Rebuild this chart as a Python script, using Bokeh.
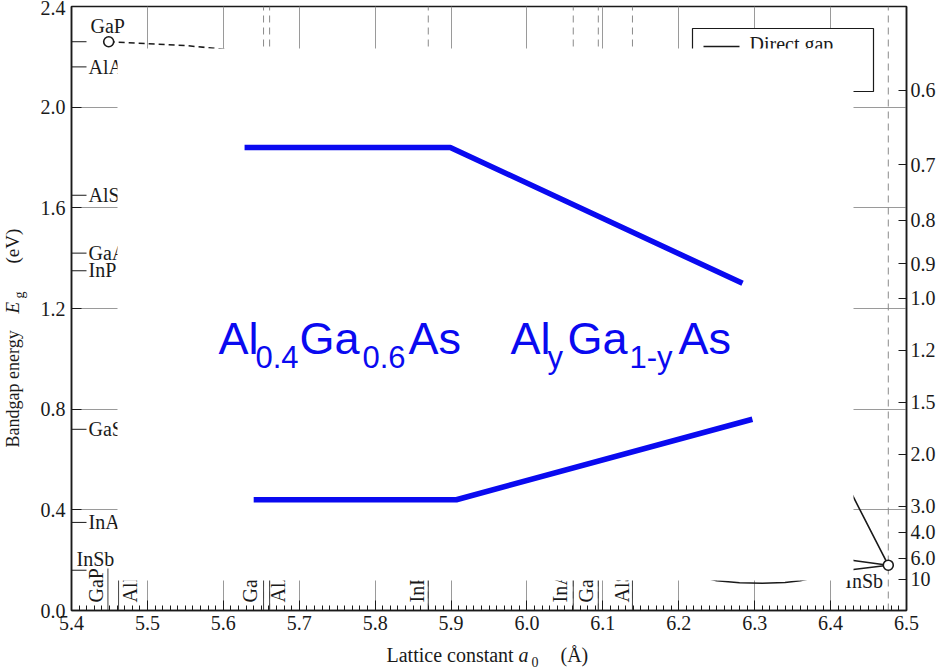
import math
from bokeh.plotting import figure
from bokeh.layouts import column, row
from bokeh.models import FixedTicker, LinearAxis, ColumnDataSource, Range1d
from bokeh.core.properties import value
from bokeh.embed import file_html
from bokeh.resources import INLINE

# ---------------- data ----------------
x_ticks = [5.4, 5.5, 5.6, 5.7, 5.8, 5.9, 6.0, 6.1, 6.2, 6.3, 6.4, 6.5]
x_tick_labels = ["5.4", "5.5", "5.6", "5.7", "5.8", "5.9", "6.0", "6.1", "6.2", "6.3", "6.4", "6.5"]
y_ticks = [0.0, 0.4, 0.8, 1.2, 1.6, 2.0, 2.4]
y_tick_labels = ["0.0", "0.4", "0.8", "1.2", "1.6", "2.0", "2.4"]
wavelength_um = [0.6, 0.7, 0.8, 0.9, 1.0, 1.2, 1.5, 2.0, 3.0, 4.0, 6.0, 10.0]
wavelength_labels = ["0.6", "0.7", "0.8", "0.9", "1.0", "1.2", "1.5", "2.0", "3.0", "4.0", "6.0", "10"]

# lattice constants (bottom markers)
lattice_materials = ["GaP", "AlP", "GaAs", "AlAs", "InP", "InAs", "GaSb", "AlSb", "InSb"]
lattice_a = [5.448, 5.462, 5.653, 5.661, 5.870, 6.061, 6.094, 6.139, 6.476]
lattice_dashed = [False, False, True, True, True, True, True, True, True]
lattice_bottom_label = [True, True, True, True, True, True, True, True, False]

# bandgaps (left-axis markers)
gap_materials = ["GaP", "AlAs", "AlSb", "GaAs", "InP", "GaSb", "InAs", "InSb"]
gap_eg = [2.26, 2.16, 1.65, 1.42, 1.35, 0.72, 0.35, 0.16]

# binary points drawn as circles
point_a = [5.449, 6.476]
point_eg = [2.26, 0.18]

# visible pieces of the alloy curves
gap_dashed_a = [5.449, 5.55, 5.65]
gap_dashed_eg = [2.26, 2.245, 2.215]
insb_steep_a = [6.476, 6.429, 6.40]
insb_steep_eg = [0.18, 0.457, 0.64]
insb_upper_a = [6.476, 6.430, 6.40]
insb_upper_eg = [0.18, 0.199, 0.21]
inassb_a = [6.061, 6.15, 6.25, 6.28, 6.31, 6.34, 6.36, 6.43, 6.476]
inassb_eg = [0.35, 0.19, 0.118, 0.110, 0.108, 0.111, 0.118, 0.163, 0.18]

# blue overlay (AlGaAs band edges)
upper_a = [5.628, 5.899, 6.284]
upper_eg = [1.84, 1.84, 1.30]
lower_a = [5.640, 5.907, 6.297]
lower_eg = [0.44, 0.44, 0.76]

formula_main = [["Al", "Ga", "As"], ["Al", "Ga", "As"]]
formula_sub = [["0.4", "0.6"], ["y", "1-y"]]

x_title = ["Lattice constant", "a", "0", "(Å)"]
y_title = ["Bandgap energy", "E", "g", "(eV)"]

# ---------------- layout ----------------
X0, X1 = 5.4, 6.5
Y0, Y1 = 0.0, 2.4
W, H = 942, 671
LW = 30          # strip holding the y title
BH = 28          # strip holding the x title
FL, FR, FT, FB = 71, 906, 6, 610   # frame edges in page pixels
FW = FR - FL
FH = FB - FT


def px2x(px):
    return X0 + (px - FL) / FW * (X1 - X0)


def py2y(py):
    return Y0 + (FB - py) / FH * (Y1 - Y0)


def bfix(size):
    # observed shift of Bokeh's alphabetic text anchor, in px, for a font size
    return 0.37 * size


def overrides(ticks, labels):
    d = {}
    for t, l in zip(ticks, labels):
        d[t] = l
        d[str(t)] = l
        d[f"{t:g}"] = l
    return d


SERIF = "Liberation Serif"
SANS = "Liberation Sans"
INK = "#1a1a1a"
GRID = "#9a9a9a"
BLUE = "#0A0AF0"

MW, MH = W - LW, H - BH
p = figure(width=MW, height=MH, x_range=Range1d(X0, X1), y_range=Range1d(Y0, Y1),
           output_backend="svg", toolbar_location=None, title_location=None,
           min_border_left=FL - LW, min_border_right=W - FR, min_border_top=FT,
           min_border_bottom=MH - FB)
p.background_fill_color = "white"
p.border_fill_color = "white"
p.outline_line_color = INK
p.outline_line_width = 1.5

# bottom axis
xax = p.xaxis[0]
xax.ticker = FixedTicker(ticks=x_ticks, minor_ticks=[round(5.4 + 0.01 * i, 2) for i in range(111)])
xax.major_label_overrides = overrides(x_ticks, x_tick_labels)
xax.major_tick_in = 10
xax.major_tick_out = 0
xax.minor_tick_in = 5
xax.minor_tick_out = 0
xax.major_label_standoff = 5
xax.axis_line_width = 1.5
xax.axis_line_color = INK
xax.major_tick_line_color = INK
xax.minor_tick_line_color = INK
xax.major_label_text_font = SERIF
xax.major_label_text_font_size = "20px"
xax.major_label_text_color = INK

# left axis
yax = p.yaxis[0]
yax.ticker = FixedTicker(ticks=y_ticks)
yax.major_label_overrides = overrides(y_ticks, y_tick_labels)
yax.major_tick_in = 10
yax.major_tick_out = 0
yax.minor_tick_line_color = None
yax.major_label_standoff = 6
yax.axis_line_width = 1.5
yax.axis_line_color = INK
yax.major_tick_line_color = INK
yax.major_label_text_font = SERIF
yax.major_label_text_font_size = "20px"
yax.major_label_text_color = INK

# right axis: wavelength (um)
e_ticks = [1.24 / w for w in wavelength_um]
rax = LinearAxis(ticker=FixedTicker(ticks=e_ticks),
                 major_label_overrides=overrides(e_ticks, wavelength_labels))
rax.major_tick_in = 8
rax.major_tick_out = 0
rax.minor_tick_line_color = None
rax.major_label_standoff = 4
rax.axis_line_width = 1.5
rax.axis_line_color = INK
rax.major_tick_line_color = INK
rax.major_label_text_font = SERIF
rax.major_label_text_font_size = "20px"
rax.major_label_text_color = INK
p.add_layout(rax, "right")

p.xgrid.ticker = FixedTicker(ticks=x_ticks)
p.ygrid.ticker = FixedTicker(ticks=y_ticks)
p.xgrid.grid_line_color = GRID
p.ygrid.grid_line_color = GRID
p.xgrid.grid_line_width = 1
p.ygrid.grid_line_width = 1

# lattice constant markers
dash_a = [a for a, d in zip(lattice_a, lattice_dashed) if d]
p.segment(x0=dash_a, x1=dash_a, y0=[Y0] * len(dash_a), y1=[Y1] * len(dash_a),
          line_color="#8a8a8a", line_width=1, line_dash="7 5")
tick_a = [a for a, b in zip(lattice_a, lattice_bottom_label) if b]
p.segment(x0=tick_a, x1=tick_a, y0=[Y0] * len(tick_a), y1=[py2y(568)] * len(tick_a),
          line_color="#444444", line_width=1)

# bandgap markers on the left axis
p.segment(x0=[X0] * len(gap_eg), x1=[px2x(86)] * len(gap_eg), y0=gap_eg, y1=gap_eg,
          line_color=INK, line_width=1)

# alloy curves
p.line(gap_dashed_a, gap_dashed_eg, line_color=INK, line_width=1.6, line_dash="6 4")
p.line(insb_steep_a, insb_steep_eg, line_color=INK, line_width=1.6)
p.line(insb_upper_a, insb_upper_eg, line_color=INK, line_width=1.6)
p.line(inassb_a, inassb_eg, line_color=INK, line_width=1.6)
p.scatter(point_a, point_eg, size=10, marker="circle", fill_color="white",
          line_color=INK, line_width=1.6)

F20 = bfix(20)

# left labels
left_dx = [19, 17, 17, 17, 17, 17, 17, 5]
left_dy = [-8, 7, 7, 7, 7, 7, 7, -4]
left_src = ColumnDataSource(dict(x=[X0] * len(gap_eg), y=gap_eg, text=gap_materials,
                                 xo=left_dx, yo=[d - F20 for d in left_dy]))
p.text(x="x", y="y", text="text", x_offset="xo", y_offset="yo", source=left_src,
       text_font=value(SERIF), text_font_size=value("20px"), text_color=INK,
       text_baseline="alphabetic", text_align="left")

# bottom rotated labels
bot_names = [m for m, b in zip(lattice_materials, lattice_bottom_label) if b]
bot_dx = [-5, 19, -6, 16, -4, -6, -5, -3]
bot_src = ColumnDataSource(dict(x=tick_a, y=[Y0] * len(tick_a), text=bot_names,
                                xo=[d - F20 for d in bot_dx], yo=[-8] * len(tick_a)))
p.text(x="x", y="y", text="text", x_offset="xo", y_offset="yo", source=bot_src,
       angle=math.pi / 2, text_font=value(SERIF), text_font_size=value("20px"),
       text_color=INK, text_baseline="alphabetic", text_align="left")

# InSb label near its point
p.text(x=[lattice_a[-1]], y=[Y0], text=[lattice_materials[-1]], x_offset=[-43],
       y_offset=[-22 - F20],
       text_font=value(SERIF), text_font_size=value("20px"), text_color=INK,
       text_baseline="alphabetic", text_align="left")

# legend box
p.quad(left=[px2x(692)], right=[px2x(873)], top=[py2y(28)], bottom=[py2y(91)],
       fill_color="white", line_color=INK, line_width=1.2)
p.segment(x0=[px2x(703)], x1=[px2x(739)], y0=[py2y(46)], y1=[py2y(46)],
          line_color=INK, line_width=1.6)
p.text(x=[px2x(749)], y=[py2y(51)], text=["Direct gap"], y_offset=[-F20],
       text_font=value(SERIF), text_font_size=value("20px"), text_color=INK,
       text_baseline="alphabetic")

# white cover panel
p.quad(left=[px2x(117)], right=[px2x(853)], top=[py2y(48)], bottom=[py2y(580)],
       fill_color="white", line_color=None)

# blue overlay lines
p.line(upper_a, upper_eg, line_color=BLUE, line_width=5.5)
p.line(lower_a, lower_eg, line_color=BLUE, line_width=5.5)

# blue formulas
anchor_px = [218, 510]
main_dx = [[0, 81, 190], [0, 57, 168]]
sub_dx = [[37, 144], [37, 119]]
base_y = py2y(355)
mx, mt, mo, sx, st, so = [], [], [], [], [], []
for i in range(2):
    for t, d in zip(formula_main[i], main_dx[i]):
        mx.append(px2x(anchor_px[i])); mt.append(t); mo.append(d)
    for t, d in zip(formula_sub[i], sub_dx[i]):
        sx.append(px2x(anchor_px[i])); st.append(t); so.append(d)
p.text(x=mx, y=[base_y] * len(mx), text=mt, x_offset=mo, y_offset=[-bfix(45)] * len(mx),
       text_font=value(SANS), text_font_size=value("45px"), text_color=BLUE,
       text_baseline="alphabetic")
p.text(x=sx, y=[base_y] * len(sx), text=st, x_offset=so, y_offset=[13 - bfix(31)] * len(sx),
       text_font=value(SANS), text_font_size=value("31px"), text_color=BLUE,
       text_baseline="alphabetic")


# ---------------- title strips (page-pixel coordinates) ----------------
def strip(w, h, xr, yr, bl, br, bt, bb):
    s = figure(width=w, height=h, x_range=xr, y_range=yr,
               output_backend="svg", toolbar_location=None, title_location=None,
               x_axis_type=None, y_axis_type=None, min_border=0,
               min_border_left=bl, min_border_right=br,
               min_border_top=bt, min_border_bottom=bb)
    s.outline_line_color = None
    s.background_fill_color = "white"
    s.border_fill_color = "white"
    return s


# y-title strip: frame spans the same rows as the main frame, data y == page y
ys = strip(LW, MH, Range1d(0, LW), Range1d(FB, FT), 0, 0, FT, MH - FB)
ys.text(x=[19 - bfix(18), 19 - bfix(19), 24 - bfix(14), 19 - bfix(19)],
        y=[447, 313, 298, 263], text=y_title, angle=math.pi / 2,
        text_font=value(SERIF), text_font_size=["18px", "19px", "14px", "19px"],
        text_font_style=["normal", "italic", "normal", "normal"], text_color=INK,
        text_baseline="alphabetic", text_align="left")

# x-title strip: frame spans the same columns as the main frame, data x == page x
xs = strip(MW, BH, Range1d(FL, FR), Range1d(H, MH), FL - LW, W - FR, 0, 0)
xs.text(x=[386, 518, 531, 560],
        y=[662 - bfix(20), 662 - bfix(20), 667 - bfix(14), 662 - bfix(20)], text=x_title,
        text_font=value(SERIF), text_font_size=["20px", "20px", "14px", "20px"],
        text_font_style=["normal", "italic", "normal", "normal"], text_color=INK,
        text_baseline="alphabetic", text_align="left")

layout = row(ys, column(p, xs, spacing=0), spacing=0)
open("out.html", "w").write(file_html(layout, INLINE))
